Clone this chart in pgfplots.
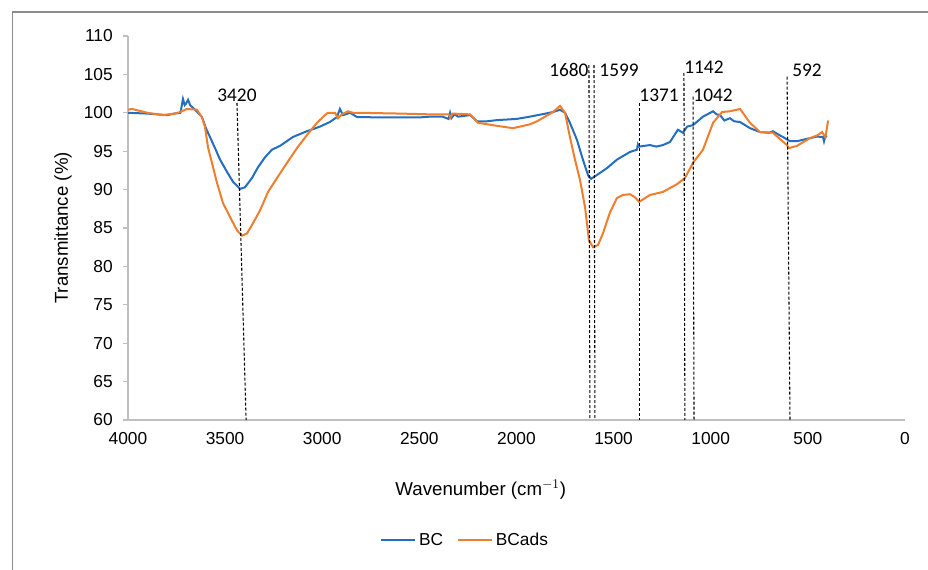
\documentclass[border=0pt]{standalone}
\usepackage{fontspec}
\setmainfont{Liberation Sans}
\newfontfamily\annfont{Carlito}
\usepackage{pgfplots}
\pgfplotsset{compat=1.18}

\definecolor{bcblue}{RGB}{36,110,192}
\definecolor{bcorange}{RGB}{240,126,45}
\definecolor{axisgray}{RGB}{191,191,191}
\definecolor{framegray}{RGB}{140,140,140}

\begin{document}
\begin{tikzpicture}
\useasboundingbox (0,0) rectangle (696pt,426.75pt);
% outer chart frame
\draw[framegray, line width=0.8pt] (9.4pt,-20pt) -- (9.4pt,417.75pt) -- (720pt,417.75pt);

\begin{axis}[
  at={(96pt,111.75pt)}, anchor=south west,
  width=582.75pt, height=288pt, scale only axis,
  x dir=reverse,
  xmin=0, xmax=4000, ymin=60, ymax=110,
  xtick={0,500,...,4000}, ytick={60,65,...,110},
  axis x line*=bottom, axis y line*=left,
  axis line style={axisgray, line width=0.8pt, -},
  tick style={axisgray, line width=0.8pt},
  xtick style={draw=none},
  major tick length=3.75pt, tick align=outside,
  /pgf/number format/assume math mode=true,
  /pgf/number format/1000 sep={},
  tick label style={font=\fontsize{13}{15}\selectfont, text=black},
  yticklabel style={inner sep=0pt, anchor=east, xshift=-7.5pt},
  xticklabel style={inner sep=0pt, anchor=north, yshift=-5pt},
  clip=false,
  legend columns=2,
  legend style={draw=none, fill=none, at={(rel axis cs:0.434,-0.3125)}, anchor=center,
    font=\fontsize{13}{15}\selectfont,
    /tikz/every even column/.append style={column sep=8pt},
    inner sep=0pt},
  legend image code/.code={\draw[#1, line width=1.5pt] (0pt,0pt) -- (26pt,0pt);},
]
\addplot[bcblue, line width=1.5pt] coordinates {
(4000,100.0) (3900,99.9) (3800,99.7) (3760,99.9) (3730,100.0) (3717,101.8)
(3708,101.0) (3701,101.2) (3691,101.7) (3680,101.0) (3655,100.4) (3619,99.45)
(3599,98.0) (3578,96.85) (3552,95.4) (3526,93.9) (3490,92.3) (3459,91.0)
(3423,90.1) (3398,90.3) (3362,91.5) (3331,92.9) (3295,94.2) (3259,95.2)
(3217,95.7) (3151,96.85) (3079,97.6) (3012,98.2) (2961,98.8) (2924,99.45)
(2909,100.5) (2893,99.7) (2857,100.0) (2821,99.45) (2700,99.4) (2600,99.4)
(2500,99.4) (2445,99.5) (2380,99.5) (2350,99.2) (2342,100.0) (2335,99.3)
(2320,99.8) (2300,99.5) (2239,99.7) (2203,98.9) (2150,98.9) (2100,99.05)
(2000,99.2) (1931,99.5) (1850,99.9) (1812,100.1) (1776,100.4) (1750,100.0)
(1725,98.7) (1689,96.5) (1658,93.9) (1632,91.9) (1616,91.4) (1586,91.9)
(1534,92.8) (1483,93.9) (1416,94.9) (1380,95.2) (1375,95.9) (1369,95.6)
(1313,95.8) (1280,95.6) (1246,95.8) (1210,96.2) (1169,97.8) (1143,97.4)
(1122,98.2) (1091,98.4) (1040,99.5) (988,100.2) (970,99.8) (952,99.7)
(930,99.0) (901,99.3) (880,98.9) (849,98.8) (798,98.0) (747,97.5)
(700,97.4) (680,97.6) (640,97.0) (628,96.85) (592,96.3) (556,96.3)
(489,96.7) (453,96.9) (422,96.85) (417,96.3) (410,97.0) (402,96.85)
};
\addlegendentry{BC}
\addplot[bcorange, line width=1.5pt] coordinates {
(4000,100.4) (3979,100.5) (3900,100.0) (3820,99.7) (3760,99.9) (3732,100.1)
(3696,100.5) (3645,100.4) (3619,99.4) (3604,98.2) (3588,95.5) (3568,93.5)
(3542,90.9) (3511,88.25) (3474,86.4) (3439,84.7) (3413,84.0) (3387,84.3)
(3357,85.6) (3320,87.3) (3279,89.7) (3233,91.5) (3181,93.5) (3130,95.4)
(3079,97.1) (3027,98.7) (2986,99.7) (2971,100.0)
(2934,100.0) (2919,99.3) (2899,99.8) (2867,100.2) (2842,100.0) (2806,100.0)
(2600,99.9) (2445,99.8) (2350,99.8) (2340,99.4) (2330,99.9) (2239,99.8)
(2198,98.7) (2100,98.3) (2018,98.0) (1931,98.5) (1894,98.9) (1812,100.1)
(1776,100.9) (1750,100.0) (1725,96.85) (1699,93.9) (1673,91.25) (1647,87.7)
(1627,83.4) (1606,82.5) (1580,82.8) (1555,84.3) (1519,87.0) (1483,88.9)
(1452,89.3) (1416,89.4) (1390,89.0) (1369,88.4) (1313,89.3) (1246,89.7)
(1174,90.7) (1133,91.5) (1091,93.5) (1040,95.2) (988,98.7) (942,100.1)
(901,100.2) (849,100.5) (798,98.7) (747,97.5) (680,97.4) (608,95.8)
(597,95.4) (556,95.7) (489,96.7) (448,97.1) (427,97.5) (410,96.8)
(402,98.0) (396,99.0)
};
\addlegendentry{BCads}

% peak markers
\begin{scope}[black, line width=0.8pt, dash pattern=on 2.25pt off 1.5pt]
\draw (axis cs:3439,101.3) -- (axis cs:3392,60);
\draw (axis cs:1627,106.2) -- (axis cs:1622,60);
\draw (axis cs:1601,106.2) -- (axis cs:1596,60);
\draw (axis cs:1369,101.3) -- (axis cs:1369,60);
\draw (axis cs:1138,105.2) -- (axis cs:1133,60);
\draw (axis cs:1091,102.1) -- (axis cs:1086,60);
\draw (axis cs:607,104.7) -- (axis cs:592,60);
\end{scope}
\begin{scope}[every node/.style={font=\annfont\fontsize{14.5}{16}\selectfont, inner sep=0pt}]
\node at (axis cs:3439,102.3) {3420};
\node at (axis cs:1730,105.6) {1680};
\node at (axis cs:1472,105.6) {1599};
\node at (axis cs:1266,102.3) {1371};
\node at (axis cs:1035,106.0) {1142};
\node at (axis cs:988,102.3) {1042};
\node at (axis cs:504,105.6) {592};
\end{scope}

\node[font=\fontsize{14}{16}\selectfont] at (rel axis cs:0.454,-0.182) {Wavenumber (cm$^{-1}$)};
\node[font=\fontsize{14}{16}\selectfont, rotate=90] at (rel axis cs:-0.0837,0.5) {Transmittance (\%)};
\end{axis}
\end{tikzpicture}
\end{document}
